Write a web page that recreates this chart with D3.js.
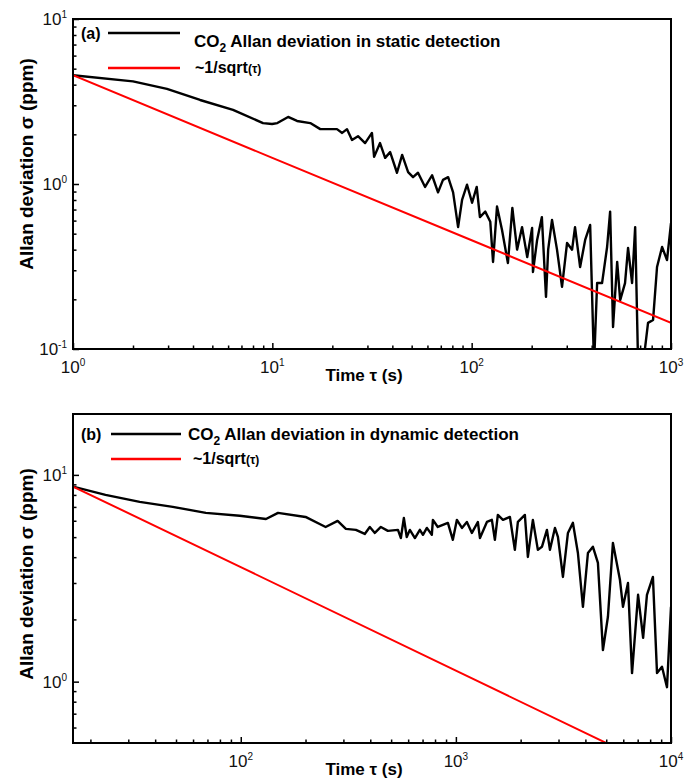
<!DOCTYPE html>
<html>
<head>
<meta charset="utf-8">
<script src="https://cdn.jsdelivr.net/npm/d3@7"></script>
<style>
  body { margin: 0; background: #fff; }
  svg { display: block; font-family: "Liberation Sans", Arial, sans-serif; }
</style>
</head>
<body>
<svg id="chart" width="684" height="782"></svg>
<script>
'use strict';

// Panel (a): static detection, [tau (s), sigma (ppm)]
const staticCurve = [
    [1, 4.56], [2.0, 4.19], [2.96, 3.77], [4.34, 3.23], [6.35, 2.81], [8.98, 2.34], [9.97, 2.31],
    [10.6, 2.34], [12.0, 2.55], [13.3, 2.41], [15.5, 2.34], [17.4, 2.15], [21.1, 2.15], [22.4, 2.04],
    [23.7, 2.15], [25.1, 1.85], [26.9, 1.95], [29.2, 1.77], [31.6, 2.04], [32.4, 1.46], [34.7, 1.77],
    [36.8, 1.44], [39.0, 1.56], [42.2, 1.17], [44.8, 1.50], [48.0, 1.18], [50.8, 1.10], [53.8, 1.17],
    [58.4, 0.96], [63.3, 1.13], [67.8, 0.89], [71.8, 1.06], [76.2, 1.10], [80.7, 0.89], [85.5, 0.548],
    [89.5, 0.80], [94.8, 0.99], [100.5, 0.77], [106, 0.96], [110, 0.63], [117, 0.68], [124, 0.59],
    [128, 0.337], [134, 0.73], [142, 0.526], [152, 0.332], [160, 0.716], [169, 0.40], [179, 0.548],
    [190, 0.361], [201, 0.541], [203, 0.293], [213, 0.458], [225, 0.63], [236, 0.207], [242, 0.40],
    [253, 0.605], [268, 0.40], [284, 0.238], [301, 0.439], [319, 0.40], [330, 0.548], [350, 0.314],
    [371, 0.458], [393, 0.565], [411, 0.08], [426, 0.251], [451, 0.251], [478, 0.415], [495, 0.68],
    [512, 0.136], [537, 0.337], [556, 0.198], [588, 0.251], [609, 0.41], [638, 0.251], [661, 0.548],
    [684, 0.08], [724, 0.08], [767, 0.144], [813, 0.15], [851, 0.314], [902, 0.415], [955, 0.346],
    [1000, 0.58]
];
const staticFit = [[1, 4.56], [10, 1.44], [100, 0.456], [1000, 0.144]];

// Panel (b): dynamic detection
const dynamicCurve = [
    [16.6, 8.78], [23.5, 8.0], [33.9, 7.40], [48.3, 7.0], [68.8, 6.55], [98.9, 6.34], [131, 6.12],
    [149, 6.55], [200, 6.26], [248, 5.60], [282, 5.99], [308, 5.48], [343, 5.42], [377, 5.18],
    [398, 5.60], [420, 5.24], [448, 5.60], [483, 5.36], [538, 5.42], [555, 4.95], [573, 6.19],
    [591, 5.01], [611, 5.42], [645, 4.95], [680, 5.42], [703, 5.13], [733, 5.54], [773, 5.13],
    [782, 6.06], [824, 5.60], [870, 5.73], [918, 5.86], [968, 4.85], [1011, 6.06], [1067, 5.54],
    [1125, 5.92], [1187, 5.24], [1265, 5.92], [1294, 4.95], [1394, 5.92], [1470, 6.06], [1518, 4.85],
    [1567, 6.40], [1655, 6.06], [1783, 6.26], [1880, 4.34], [1942, 5.92], [2093, 6.40], [2161, 4.01],
    [2280, 6.06], [2405, 4.34], [2512, 4.49], [2650, 5.42], [2737, 4.34], [2887, 5.54], [2981, 5.01],
    [3145, 3.21], [3318, 5.24], [3500, 5.86], [3692, 4.19], [3896, 2.30], [4110, 4.19], [4336, 4.49],
    [4574, 3.75], [4826, 1.42], [5091, 2.06], [5371, 4.69], [5791, 3.10], [5981, 2.30], [6310, 3.00],
    [6590, 1.10], [7030, 2.63], [7420, 1.63], [7730, 2.63], [8240, 3.21], [8610, 1.10], [9080, 1.18],
    [9580, 0.94], [10000, 2.30]
];
const dynamicFit = [[16.6, 8.78], [100, 3.58], [1000, 1.13], [10000, 0.357]];

// axis extents and labelled ticks
const staticXDomain = [1, 1000];
const staticYDomain = [0.1, 10];
const staticXMajor = [1, 10, 100, 1000];
const staticYMajor = [0.1, 1, 10];
const dynamicXDomain = [16.6, 10000];
const dynamicYDomain = [0.505, 19.7];
const dynamicXMajor = [100, 1000, 10000];
const dynamicYMajor = [1, 10];

const svg = d3.select('#chart');

const panels = [
    {
        id: 'a', tag: '(a)', box: { left: 73, top: 19, right: 671, bottom: 349 },
        xDomain: staticXDomain, yDomain: staticYDomain, xMajor: staticXMajor, yMajor: staticYMajor,
        curve: staticCurve, fit: staticFit, legend: ' Allan deviation in static detection',
        yLabelY: 164, legendY: [33, 68]
    },
    {
        id: 'b', tag: '(b)', box: { left: 73, top: 414, right: 671, bottom: 743 },
        xDomain: dynamicXDomain, yDomain: dynamicYDomain, xMajor: dynamicXMajor, yMajor: dynamicYMajor,
        curve: dynamicCurve, fit: dynamicFit, legend: ' Allan deviation in dynamic detection',
        yLabelY: 574, legendY: [434, 459]
    }
];

panels.forEach(drawPanel);

function drawPanel(p) {
    const b = p.box;
    const x = d3.scaleLog().domain(p.xDomain).range([b.left, b.right]);
    const y = d3.scaleLog().domain(p.yDomain).range([b.bottom, b.top]);
    const g = svg.append('g');

    g.append('clipPath')
        .attr('id', 'clip-' + p.id)
        .append('rect')
        .attr('x', b.left).attr('y', b.top)
        .attr('width', b.right - b.left).attr('height', b.bottom - b.top);

    const line = d3.line().x(d => x(d[0])).y(d => y(d[1]));

    const plot = g.append('g').attr('clip-path', 'url(#clip-' + p.id + ')');
    plot.append('path')
        .attr('d', line(p.curve))
        .attr('fill', 'none').attr('stroke', '#000').attr('stroke-width', 2.4)
        .attr('stroke-linejoin', 'round');
    plot.append('path')
        .attr('d', line(p.fit))
        .attr('fill', 'none').attr('stroke', '#ff0000').attr('stroke-width', 2);

    // inward ticks, minor then major
    const isMajor = v => Math.abs(Math.log10(v) - Math.round(Math.log10(v))) < 1e-6;
    const xMinor = x.ticks().filter(v => !isMajor(v));
    const yMinor = y.ticks().filter(v => !isMajor(v));

    const addAxis = (axis, translate) => {
        const a = g.append('g').attr('transform', translate).call(axis);
        a.select('.domain').remove();
        a.selectAll('line').attr('stroke', '#000').attr('stroke-width', 1.5);
    };
    addAxis(d3.axisBottom(x).tickValues(xMinor).tickSize(-3.5).tickFormat(''), 'translate(0,' + b.bottom + ')');
    addAxis(d3.axisBottom(x).tickValues(p.xMajor).tickSize(-6).tickFormat(''), 'translate(0,' + b.bottom + ')');
    addAxis(d3.axisLeft(y).tickValues(yMinor).tickSize(-3.5).tickFormat(''), 'translate(' + b.left + ',0)');
    addAxis(d3.axisLeft(y).tickValues(p.yMajor).tickSize(-6).tickFormat(''), 'translate(' + b.left + ',0)');

    g.append('rect')
        .attr('x', b.left).attr('y', b.top)
        .attr('width', b.right - b.left).attr('height', b.bottom - b.top)
        .attr('fill', 'none').attr('stroke', '#000').attr('stroke-width', 2);

    // power-of-ten tick labels
    const powerLabel = (sel, v) => {
        sel.append('tspan').text('10');
        sel.append('tspan').attr('font-size', 10).attr('dy', -7).text(Math.round(Math.log10(v)));
    };
    p.xMajor.forEach(v => {
        g.append('text')
            .attr('x', x(v)).attr('y', b.bottom + 24)
            .attr('text-anchor', 'middle').attr('font-size', 17).attr('fill', '#111')
            .call(powerLabel, v);
    });
    p.yMajor.forEach(v => {
        g.append('text')
            .attr('x', b.left - 6).attr('y', y(v) + 6)
            .attr('text-anchor', 'end').attr('font-size', 17).attr('fill', '#111')
            .call(powerLabel, v);
    });

    // axis titles
    g.append('text')
        .attr('x', 364).attr('y', b.bottom + 32)
        .attr('text-anchor', 'middle').attr('font-size', 17).attr('font-weight', 'bold')
        .text('Time \u03c4 (s)');
    g.append('text')
        .attr('transform', 'translate(33,' + p.yLabelY + ') rotate(-90)')
        .attr('text-anchor', 'middle').attr('font-size', 19).attr('font-weight', 'bold')
        .text('Allan deviation \u03c3 (ppm)');

    // legend
    const lg = g.append('g').attr('font-weight', 'bold');
    lg.append('text').attr('x', 81).attr('y', p.legendY[0] + 6).attr('font-size', 16).text(p.tag);
    const lineX = p.id === 'a' ? [108, 180] : [111, 181];
    const textX = p.id === 'a' ? 194 : 188;
    lg.append('line')
        .attr('x1', lineX[0]).attr('x2', lineX[1])
        .attr('y1', p.legendY[0]).attr('y2', p.legendY[0])
        .attr('stroke', '#000').attr('stroke-width', 2.4);
    lg.append('line')
        .attr('x1', lineX[0]).attr('x2', lineX[1])
        .attr('y1', p.legendY[1]).attr('y2', p.legendY[1])
        .attr('stroke', '#ff0000').attr('stroke-width', 2.4);

    const t1 = lg.append('text').attr('x', textX).attr('y', p.legendY[0] + 14 - (p.id === 'b' ? 8 : 0)).attr('font-size', 17);
    t1.append('tspan').text('CO');
    t1.append('tspan').attr('font-size', 12).attr('dy', 5).text('2');
    t1.append('tspan').attr('dy', -5).text(p.legend);

    const t2 = lg.append('text').attr('x', textX + (p.id === 'a' ? 1 : 5)).attr('y', p.legendY[1] + 5).attr('font-size', 16);
    t2.append('tspan').text('~1/sqrt');
    t2.append('tspan').attr('font-size', 12).text('(\u03c4)');
}
</script>
</body>
</html>
